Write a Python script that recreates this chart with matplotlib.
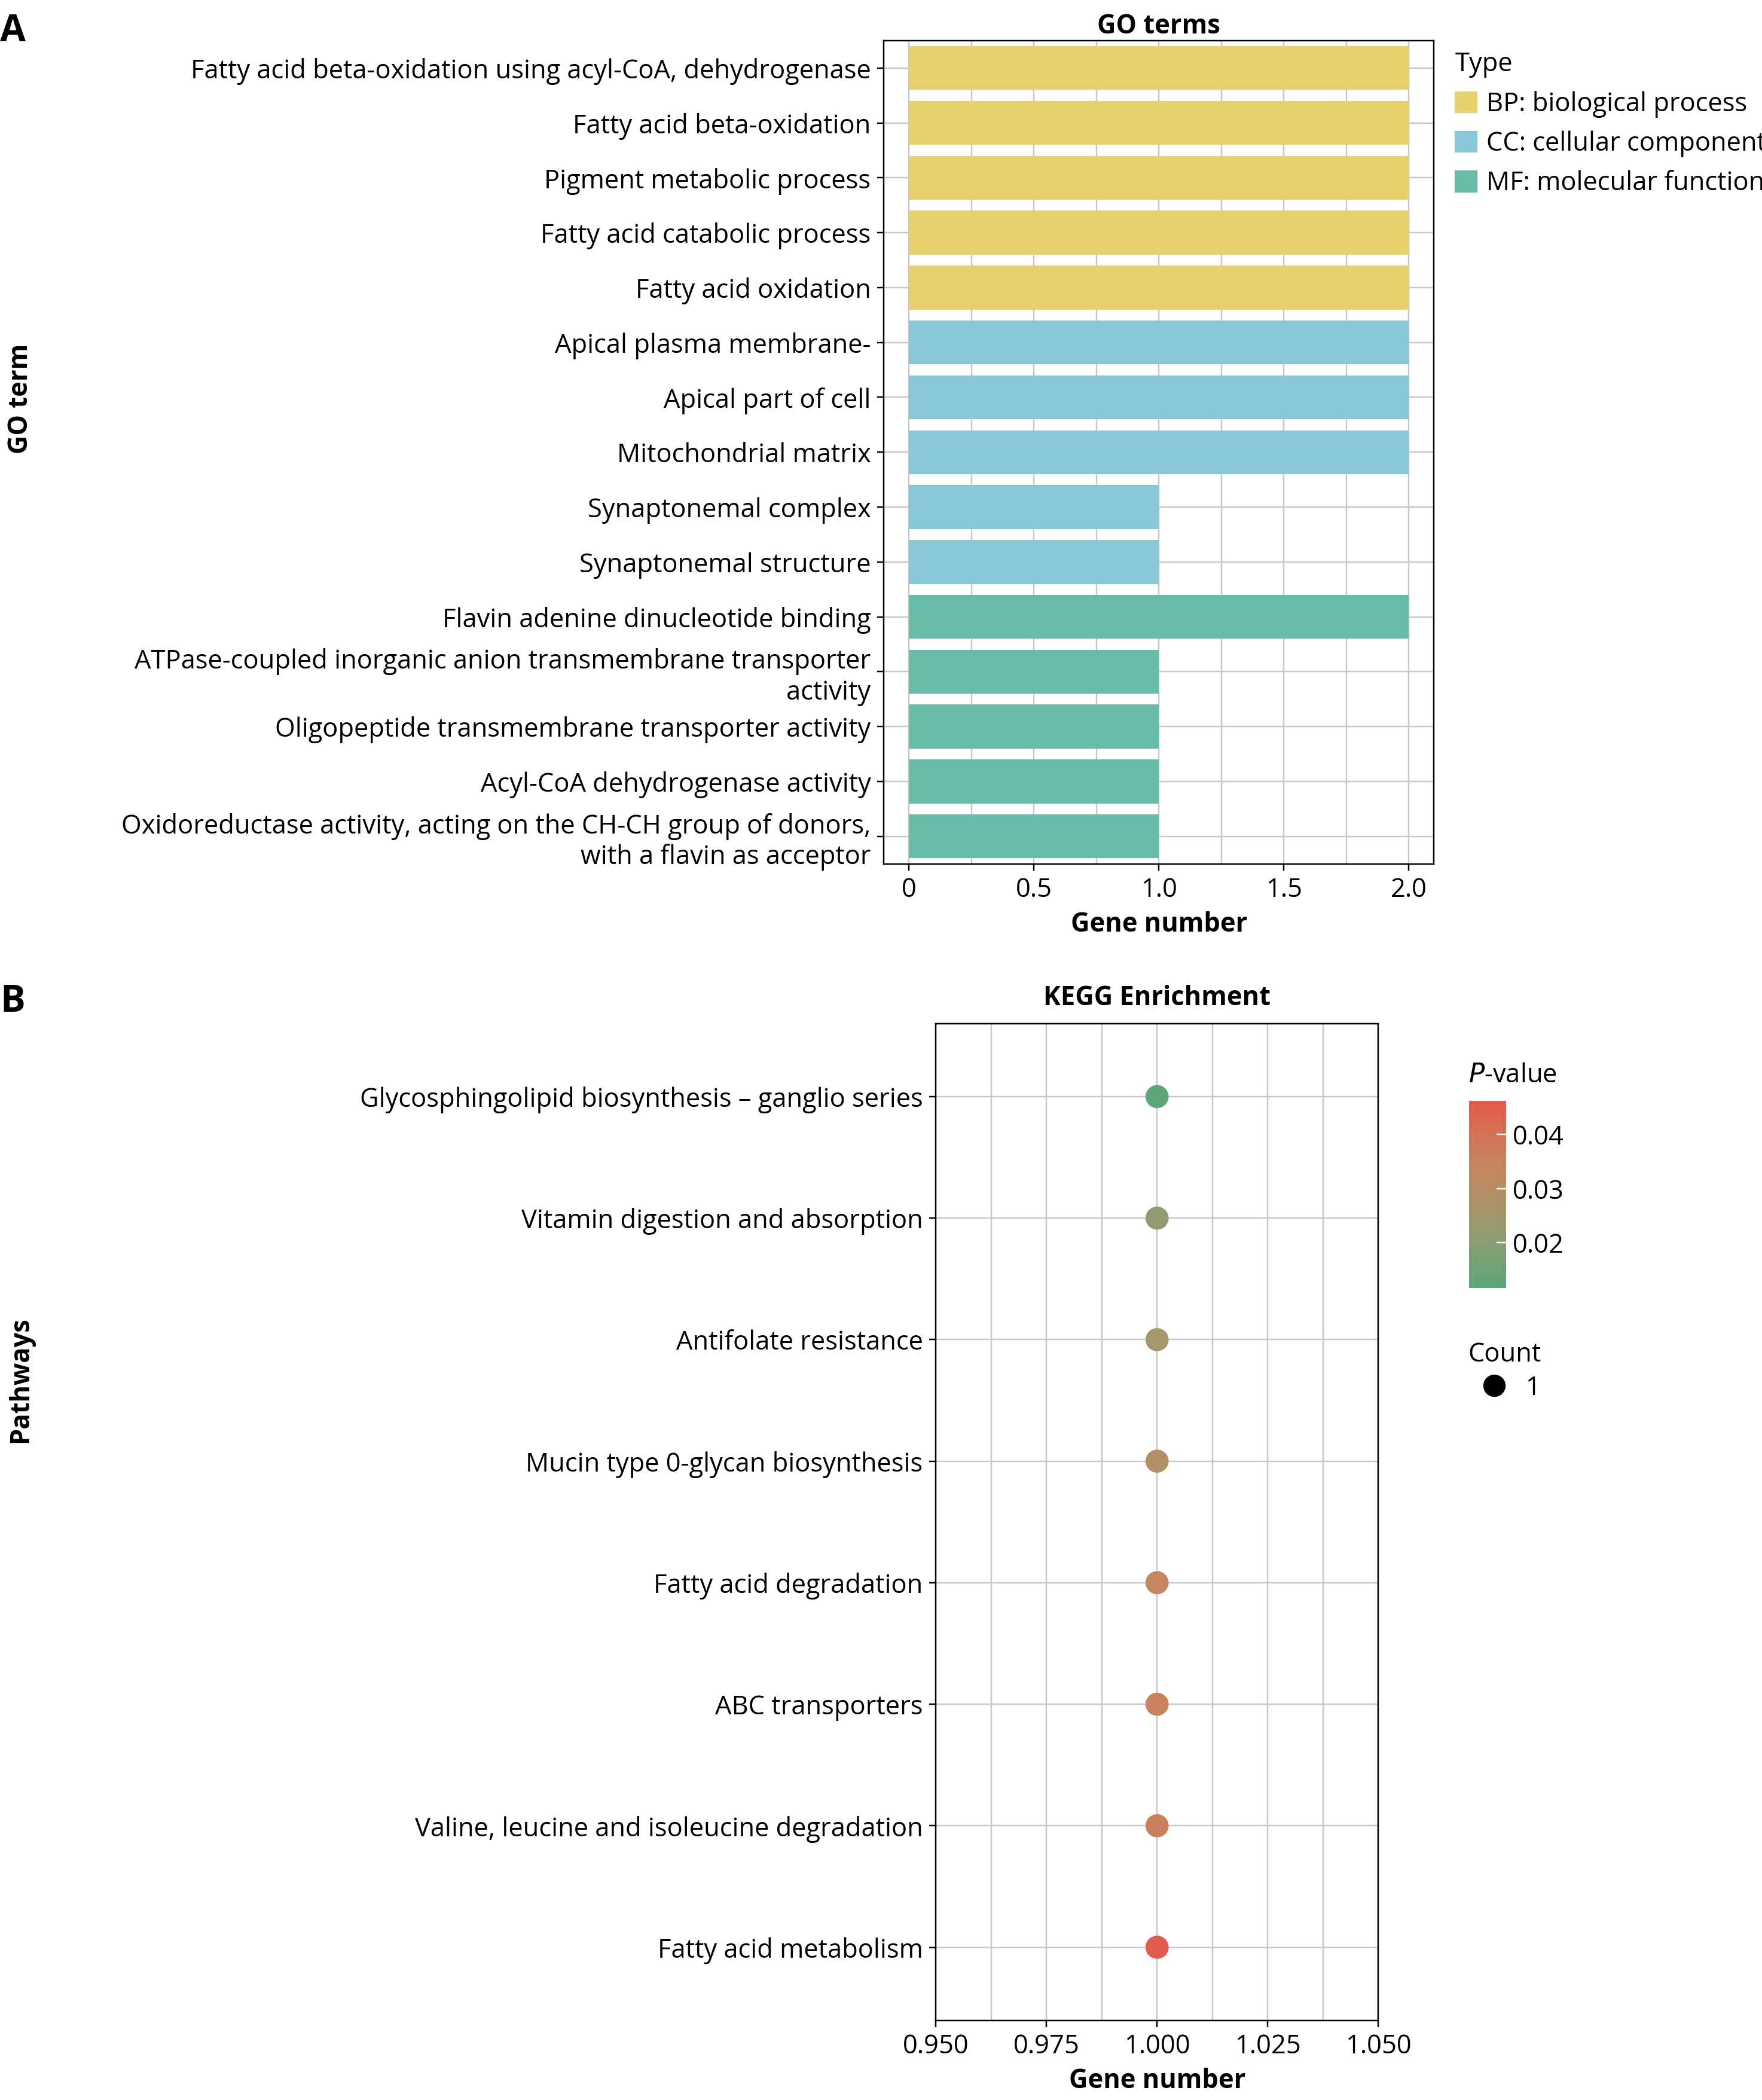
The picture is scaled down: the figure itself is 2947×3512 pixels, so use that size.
import numpy as np
import matplotlib.pyplot as plt
import matplotlib as mpl
from matplotlib.colors import LinearSegmentedColormap
from matplotlib.patches import Patch
from matplotlib.lines import Line2D

plt.rcParams['font.family'] = ['Open Sans', 'DejaVu Sans']
plt.rcParams['font.size'] = 14

# GO terms data
go_terms = [
    'Fatty acid beta-oxidation using acyl-CoA, dehydrogenase',
    'Fatty acid beta-oxidation',
    'Pigment metabolic process',
    'Fatty acid catabolic process',
    'Fatty acid oxidation',
    'Apical plasma membrane-',
    'Apical part of cell',
    'Mitochondrial matrix',
    'Synaptonemal complex',
    'Synaptonemal structure',
    'Flavin adenine dinucleotide binding',
    'ATPase-coupled inorganic anion transmembrane transporter\nactivity',
    'Oligopeptide transmembrane transporter activity',
    'Acyl-CoA dehydrogenase activity',
    'Oxidoreductase activity, acting on the CH-CH group of donors,\nwith a flavin as acceptor',
]
go_counts = [2, 2, 2, 2, 2, 2, 2, 2, 1, 1, 2, 1, 1, 1, 1]
go_types = ['BP'] * 5 + ['CC'] * 5 + ['MF'] * 5
type_colors = {'BP': '#e8d06c', 'CC': '#89c8d8', 'MF': '#66bca8'}
type_labels = {'BP': 'BP: biological process', 'CC': 'CC: cellular component',
               'MF': 'MF: molecular function'}

# KEGG data
pathways = [
    'Glycosphingolipid biosynthesis \u2013 ganglio series',
    'Vitamin digestion and absorption',
    'Antifolate resistance',
    'Mucin type 0-glycan biosynthesis',
    'Fatty acid degradation',
    'ABC transporters',
    'Valine, leucine and isoleucine degradation',
    'Fatty acid metabolism',
]
kegg_counts = [1, 1, 1, 1, 1, 1, 1, 1]
kegg_p = [0.012, 0.021, 0.025, 0.029, 0.034, 0.035, 0.036, 0.046]

fig = plt.figure(figsize=(13.16, 15.68), dpi=224)

# Panel A
ax1 = fig.add_axes([0.5015, 0.5886, 0.312, 0.392])
y = np.arange(len(go_terms))
ax1.barh(y, go_counts, height=0.8, color=[type_colors[t] for t in go_types], zorder=3)
ax1.set_yticks(y)
ax1.set_yticklabels(go_terms, fontsize=14)
ax1.set_ylim(len(go_terms) - 0.5, -0.5)
ax1.set_xlim(-0.1, 2.1)
ax1.set_xticks([0, 0.5, 1.0, 1.5, 2.0])
ax1.set_xticklabels(['0', '0.5', '1.0', '1.5', '2.0'])
ax1.set_xticks(np.arange(0, 2.01, 0.25), minor=True)
ax1.grid(True, which='both', axis='x', color='#c8c8c8', lw=0.8, zorder=0)
ax1.grid(True, axis='y', color='#c8c8c8', lw=0.8, zorder=0)
ax1.tick_params(which='minor', length=0)
ax1.set_xlabel('Gene number', fontweight='bold', fontsize=14)
ax1.set_title('GO terms', fontweight='bold', fontsize=14, pad=4)
fig.text(0.004, 0.81, 'GO term', rotation=90, va='center', fontweight='bold', fontsize=14)
handles = [Patch(color=type_colors[k], label=type_labels[k]) for k in ['BP', 'CC', 'MF']]
ax1.legend(handles=handles, title='Type', loc='upper left', bbox_to_anchor=(1.02, 1.0),
           frameon=False, fontsize=14, title_fontsize=14, handlelength=0.8,
           handleheight=0.8, handletextpad=0.4, borderaxespad=0, alignment='left')
fig.text(0.0, 0.985, 'A', fontweight='bold', fontsize=20, va='center')

# Panel B
cmap = LinearSegmentedColormap.from_list('pv', ['#5aa77a', '#9c9a6e', '#c8855f', '#e35a4b'])
norm = mpl.colors.Normalize(vmin=0.0116, vmax=0.0462)
ax2 = fig.add_axes([0.531, 0.038, 0.251, 0.4745])
yk = np.arange(len(pathways))
ax2.scatter(kegg_counts, yk, c=kegg_p, cmap=cmap, norm=norm, s=130, zorder=3)
ax2.set_yticks(yk)
ax2.set_yticklabels(pathways, fontsize=14)
ax2.set_ylim(len(pathways) - 1 + 0.6, -0.6)
ax2.set_xlim(0.95, 1.05)
ax2.set_xticks([0.95, 0.975, 1.0, 1.025, 1.05])
ax2.set_xticklabels(['0.950', '0.975', '1.000', '1.025', '1.050'])
ax2.set_xticks(np.arange(0.95, 1.0501, 0.0125), minor=True)
ax2.grid(True, which='both', axis='x', color='#c8c8c8', lw=0.8, zorder=0)
ax2.grid(True, axis='y', color='#c8c8c8', lw=0.8, zorder=0)
ax2.tick_params(which='minor', length=0)
ax2.set_xlabel('Gene number', fontweight='bold', fontsize=14)
ax2.set_title('KEGG Enrichment', fontweight='bold', fontsize=14, pad=10)
fig.text(0.004, 0.343, 'Pathways', rotation=90, va='center', fontweight='bold', fontsize=14)
fig.text(0.0, 0.523, 'B', fontweight='bold', fontsize=20, va='center')

cax = fig.add_axes([0.8335, 0.3865, 0.021, 0.0893])
cb = fig.colorbar(mpl.cm.ScalarMappable(norm=norm, cmap=cmap), cax=cax)
cb.set_ticks([0.02, 0.03, 0.04])
cb.ax.tick_params(labelsize=14, color='white', length=5, direction='in')
cb.outline.set_visible(False)
fig.text(0.833, 0.488, '$P$-value', fontsize=14, va='center')

fig.text(0.833, 0.355, 'Count', fontsize=14, va='center')
fig.legend(handles=[Line2D([], [], marker='o', ls='', color='black', markersize=11, label='1')],
           loc='center left', bbox_to_anchor=(0.827, 0.339), frameon=False, fontsize=14,
           handletextpad=0.2, borderaxespad=0)

fig.savefig('out.png', dpi=224)
